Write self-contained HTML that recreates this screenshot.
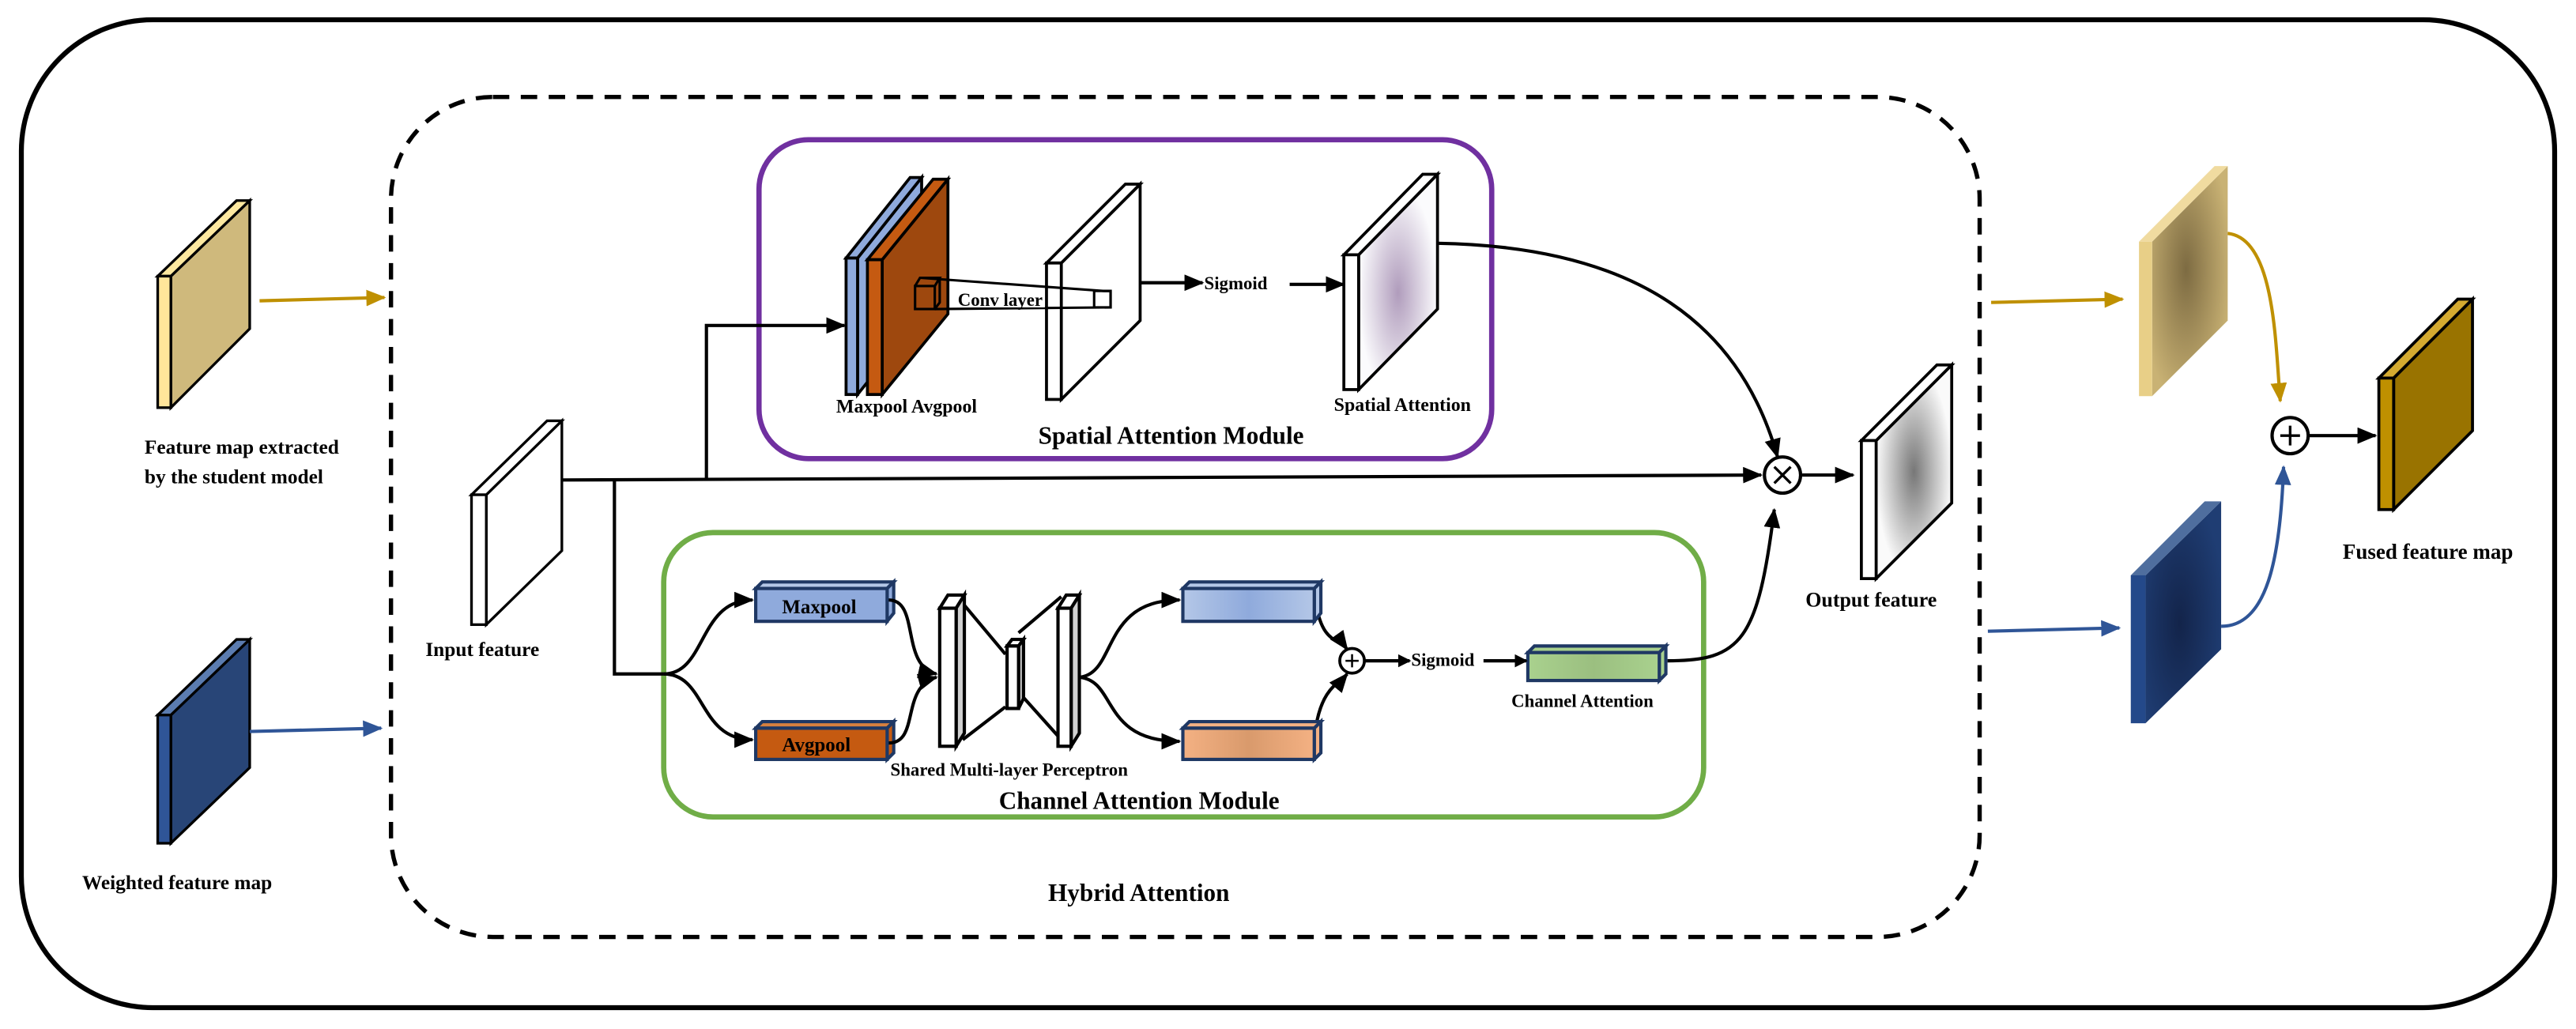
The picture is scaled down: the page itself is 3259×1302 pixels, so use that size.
<!DOCTYPE html>
<html><head><meta charset="utf-8"><style>
html,body{margin:0;padding:0;background:#fff;}
svg{display:block;}
text{font-family:"Liberation Serif",serif;font-weight:bold;fill:#000;}
</style></head><body>
<svg width="3259" height="1302" viewBox="0 0 1568 626" preserveAspectRatio="none" xmlns="http://www.w3.org/2000/svg">
<defs>
<marker id="ak" markerWidth="8" markerHeight="8" refX="7" refY="4" orient="auto" markerUnits="userSpaceOnUse"><path d="M0,0 L8,4 L0,8 z" fill="#000"/></marker>
<marker id="ag" markerWidth="12" markerHeight="10" refX="11" refY="5" orient="auto" markerUnits="userSpaceOnUse"><path d="M0,0 L12,5 L0,10 z" fill="#bf9000"/></marker>
<marker id="ab" markerWidth="12" markerHeight="10" refX="11" refY="5" orient="auto" markerUnits="userSpaceOnUse"><path d="M0,0 L12,5 L0,10 z" fill="#2f5597"/></marker>
<marker id="ak2" markerWidth="12" markerHeight="10" refX="11" refY="5" orient="auto" markerUnits="userSpaceOnUse"><path d="M0,0 L12,5 L0,10 z" fill="#000"/></marker>
<radialGradient id="gp" cx="0.5" cy="0.55" r="0.5"><stop offset="0" stop-color="#b09cbc"/><stop offset="1" stop-color="#fbfbfd"/></radialGradient>
<radialGradient id="gg" cx="0.5" cy="0.5" r="0.5"><stop offset="0" stop-color="#777"/><stop offset="1" stop-color="#fafafa"/></radialGradient>
<radialGradient id="gt" cx="0.45" cy="0.45" r="0.6"><stop offset="0" stop-color="#7d6b42"/><stop offset="1" stop-color="#c9b274"/></radialGradient>
<radialGradient id="gb" cx="0.45" cy="0.55" r="0.6"><stop offset="0" stop-color="#13244a"/><stop offset="1" stop-color="#1f3d73"/></radialGradient>
<linearGradient id="lb" x1="0" x2="1"><stop offset="0" stop-color="#b4c7e7"/><stop offset="0.5" stop-color="#8faadc"/><stop offset="1" stop-color="#b4c7e7"/></linearGradient>
<linearGradient id="lo" x1="0" x2="1"><stop offset="0" stop-color="#f4b183"/><stop offset="0.5" stop-color="#d99a6c"/><stop offset="1" stop-color="#f4b183"/></linearGradient>
<linearGradient id="lg" x1="0" x2="1"><stop offset="0" stop-color="#a9d18e"/><stop offset="0.5" stop-color="#9bbf80"/><stop offset="1" stop-color="#a9d18e"/></linearGradient>
</defs>

<rect x="13" y="12" width="1542" height="601" rx="80" ry="80" fill="none" stroke="#000" stroke-width="3"/>
<rect x="238" y="59" width="967" height="511" rx="62" ry="62" fill="none" stroke="#000" stroke-width="2.6" stroke-dasharray="10,7"/>
<rect x="462" y="85" width="446" height="194" rx="30" ry="30" fill="none" stroke="#7030a0" stroke-width="3.2"/>
<rect x="404" y="324" width="633" height="173" rx="30" ry="30" fill="none" stroke="#70ad47" stroke-width="3.2"/>

<g stroke="#000" stroke-width="1.6">
<polygon points="104,168 152,122 152,200 104,248" fill="#cfb97c"/>
<polygon points="96,168 144,122 152,122 104,168" fill="#fde8a0"/>
<rect x="96" y="168" width="8" height="80" fill="#ffe59a"/>
</g>
<line x1="158" y1="183" x2="234" y2="181" stroke="#bf9000" stroke-width="2" marker-end="url(#ag)"/>
<text x="88" y="276" font-size="12.2">Feature map extracted</text>
<text x="88" y="294" font-size="12.2">by the student model</text>

<g stroke="#000" stroke-width="1.6">
<polygon points="104,435 152,389 152,467 104,513" fill="#284577"/>
<polygon points="96,435 144,389 152,389 104,435" fill="#5b7cb0"/>
<rect x="96" y="435" width="8" height="78" fill="#2f5597"/>
</g>
<line x1="152" y1="445" x2="232" y2="443" stroke="#2f5597" stroke-width="2" marker-end="url(#ab)"/>
<text x="50" y="541" font-size="12.2">Weighted feature map</text>

<g stroke="#000" stroke-width="1.6" fill="#fff">
<polygon points="296,301 342,256 342,335 296,380"/>
<polygon points="287,301 333,256 342,256 296,301"/>
<rect x="287" y="301" width="9" height="79"/>
</g>
<text x="259" y="399" font-size="12.2">Input feature</text>

<g stroke="#000" stroke-width="2" fill="none">
<path d="M342,292 L1072,289" marker-end="url(#ak2)"/>
<path d="M430,292 L430,198 L514,198" marker-end="url(#ak2)"/>
<path d="M374,292 L374,410 L404,410"/>
<path d="M404,410 C430,410 425,365 458,365" marker-end="url(#ak2)"/>
<path d="M404,410 C430,410 425,450 458,450" marker-end="url(#ak2)"/>
</g>

<g stroke="#000" stroke-width="1.8">
<polygon points="522,157 561,108 561,191 522,240" fill="#8faadc"/>
<polygon points="515,157 554,108 561,108 522,157" fill="#8faadc"/>
<rect x="515" y="157" width="7" height="83" fill="#8faadc"/>
<polygon points="537,158 577,109 577,191 537,240" fill="#9e480e"/>
<polygon points="528,158 568,109 577,109 537,158" fill="#c55a11"/>
<rect x="528" y="158" width="9" height="82" fill="#c55a11"/>
</g>
<text x="509" y="251" font-size="11.5">Maxpool Avgpool</text>

<g stroke="#000" stroke-width="1.8" fill="#fff">
<polygon points="646,160 694,112 694,195 646,243"/>
<polygon points="637,160 685,112 694,112 646,160"/>
<rect x="637" y="160" width="9" height="83"/>
</g>
<g stroke="#000" stroke-width="1.5" fill="none">
<rect x="557" y="174" width="12" height="14"/>
<path d="M557,174 L560,169 L572,169 L569,174 M572,169 L572,184 L569,188"/>
<path d="M560,169 L672,177 L676,177 L676,187 L569,188"/>
<rect x="666" y="177" width="10" height="10"/>
</g>
<rect x="580" y="176" width="56" height="11" fill="#fff"/>
<text x="583" y="186" font-size="11">Conv layer</text>
<line x1="694" y1="172" x2="732" y2="172" stroke="#000" stroke-width="2" marker-end="url(#ak2)"/>
<text x="733" y="176" font-size="11">Sigmoid</text>
<line x1="785" y1="173" x2="818" y2="173" stroke="#000" stroke-width="2" marker-end="url(#ak2)"/>

<g stroke="#000" stroke-width="1.8">
<polygon points="827,155 875,106 875,188 827,237" fill="url(#gp)"/>
<polygon points="818,155 866,106 875,106 827,155" fill="#fff"/>
<rect x="818" y="155" width="9" height="82" fill="#fff"/>
</g>
<text x="812" y="250" font-size="11.5">Spatial Attention</text>
<text x="632" y="270" font-size="15">Spatial Attention Module</text>
<path d="M875,148 C1000,150 1060,200 1082,278" stroke="#000" stroke-width="2" fill="none" marker-end="url(#ak2)"/>

<circle cx="1085" cy="289" r="11" fill="#fff" stroke="#000" stroke-width="2"/>
<path d="M1080,284 L1090,294 M1090,284 L1080,294" stroke="#000" stroke-width="1.6"/>
<line x1="1097" y1="289" x2="1128" y2="289" stroke="#000" stroke-width="2" marker-end="url(#ak2)"/>
<path d="M1015,402 C1060,402 1070,390 1080,310" stroke="#000" stroke-width="2" fill="none" marker-end="url(#ak2)"/>

<g stroke="#000" stroke-width="1.8">
<polygon points="1142,268 1188,222 1188,306 1142,352" fill="url(#gg)"/>
<polygon points="1133,268 1179,222 1188,222 1142,268" fill="#fff"/>
<rect x="1133" y="268" width="9" height="84" fill="#fff"/>
</g>
<text x="1099" y="369" font-size="12.5">Output feature</text>

<g stroke="#1f3864" stroke-width="2">
<polygon points="460,358 464,354 544,354 540,358" fill="#b4c7e7"/>
<polygon points="540,358 544,354 544,373 540,378" fill="#8faadc"/>
<rect x="460" y="358" width="80" height="20" fill="#8faadc"/>
<polygon points="460,443 464,439 544,439 540,443" fill="#d7803f"/>
<polygon points="540,443 544,439 544,458 540,462" fill="#c55a11"/>
<rect x="460" y="443" width="80" height="19" fill="#c55a11"/>
</g>
<text x="476" y="373" font-size="12">Maxpool</text>
<text x="476" y="457" font-size="12">Avgpool</text>
<g stroke="#000" stroke-width="2" fill="none">
<path d="M541,365 C560,365 548,405 570,410" marker-end="url(#ak2)"/>
<path d="M541,452 C560,452 548,418 570,412" marker-end="url(#ak2)"/>
</g>
<g stroke="#000" stroke-width="2">
<path d="M586,367 L612,398 M586,450 L612,430 M620,385 L646,363 M620,421 L646,450" fill="none"/>
<polygon points="572,370 577,362 587,362 582,370" fill="#fff"/>
<polygon points="582,370 587,362 587,446 582,454" fill="#d0d0d0"/>
<rect x="572" y="370" width="10" height="84" fill="#fff"/>
<polygon points="613,393 616,389 623,389 620,393" fill="#fff"/>
<polygon points="620,393 623,389 623,425 620,431" fill="#d0d0d0"/>
<rect x="613" y="393" width="7" height="38" fill="#fff"/>
<polygon points="644,370 649,362 657,362 652,370" fill="#fff"/>
<polygon points="652,370 657,362 657,446 652,454" fill="#d0d0d0"/>
<rect x="644" y="370" width="8" height="84" fill="#fff"/>
</g>
<text x="542" y="472" font-size="11">Shared Multi-layer Perceptron</text>
<g stroke="#000" stroke-width="2" fill="none">
<path d="M657,412 C680,410 670,365 718,365" marker-end="url(#ak2)"/>
<path d="M657,412 C680,414 670,451 718,451" marker-end="url(#ak2)"/>
<path d="M801,367 C805,392 815,388 820,395" marker-end="url(#ak2)"/>
<path d="M801,442 C805,418 815,416 820,410" marker-end="url(#ak2)"/>
</g>
<g stroke="#1f3864" stroke-width="2">
<polygon points="720,358 724,354 804,354 800,358" fill="#b4c7e7"/>
<polygon points="800,358 804,354 804,373 800,378" fill="#b4c7e7"/>
<rect x="720" y="358" width="80" height="20" fill="url(#lb)"/>
<polygon points="720,443 724,439 804,439 800,443" fill="#f4b183"/>
<polygon points="800,443 804,439 804,458 800,462" fill="#f4b183"/>
<rect x="720" y="443" width="80" height="19" fill="url(#lo)"/>
<polygon points="930,397 934,393 1014,393 1010,397" fill="#a9d18e"/>
<polygon points="1010,397 1014,393 1014,410 1010,414" fill="#a9d18e"/>
<rect x="930" y="397" width="80" height="17" fill="url(#lg)"/>
</g>
<circle cx="823" cy="402" r="7.5" fill="#fff" stroke="#000" stroke-width="1.8"/>
<path d="M819,402 L827,402 M823,398 L823,406" stroke="#000" stroke-width="1.2"/>
<line x1="831" y1="402" x2="858" y2="402" stroke="#000" stroke-width="2" marker-end="url(#ak)"/>
<text x="859" y="405" font-size="11">Sigmoid</text>
<line x1="903" y1="402" x2="929" y2="402" stroke="#000" stroke-width="2" marker-end="url(#ak)"/>
<text x="920" y="430" font-size="11">Channel Attention</text>
<text x="608" y="492" font-size="15">Channel Attention Module</text>
<text x="638" y="548" font-size="15">Hybrid Attention</text>

<line x1="1212" y1="184" x2="1292" y2="182" stroke="#bf9000" stroke-width="2" marker-end="url(#ag)"/>
<line x1="1210" y1="384" x2="1290" y2="382" stroke="#2f5597" stroke-width="2" marker-end="url(#ab)"/>
<polygon points="1310,147 1356,101 1356,195 1310,241" fill="url(#gt)"/>
<polygon points="1302,147 1348,101 1356,101 1310,147" fill="#f0dba0"/>
<rect x="1302" y="147" width="8" height="94" fill="#e8cf87"/>
<polygon points="1306,350 1352,305 1352,395 1306,440" fill="url(#gb)"/>
<polygon points="1297,350 1342,305 1352,305 1306,350" fill="#4f6e9e"/>
<rect x="1297" y="350" width="9" height="90" fill="#24498a"/>
<path d="M1356,142 C1385,145 1385,210 1388,244" stroke="#bf9000" stroke-width="2" fill="none" marker-end="url(#ag)"/>
<path d="M1352,381 C1380,381 1388,340 1390,284" stroke="#2f5597" stroke-width="2" fill="none" marker-end="url(#ab)"/>
<circle cx="1394" cy="265" r="11" fill="#fff" stroke="#000" stroke-width="2"/>
<path d="M1388,265 L1400,265 M1394,259 L1394,271" stroke="#000" stroke-width="1.6"/>
<line x1="1405" y1="265" x2="1446" y2="265" stroke="#000" stroke-width="2" marker-end="url(#ak2)"/>
<g stroke="#000" stroke-width="1.8">
<polygon points="1457,230 1505,182 1505,262 1457,310" fill="#997300"/>
<polygon points="1448,230 1496,182 1505,182 1457,230" fill="#d4aa30"/>
<rect x="1448" y="230" width="9" height="80" fill="#bf9000"/>
</g>
<text x="1426" y="340" font-size="13">Fused feature map</text>
</svg>
</body></html>
